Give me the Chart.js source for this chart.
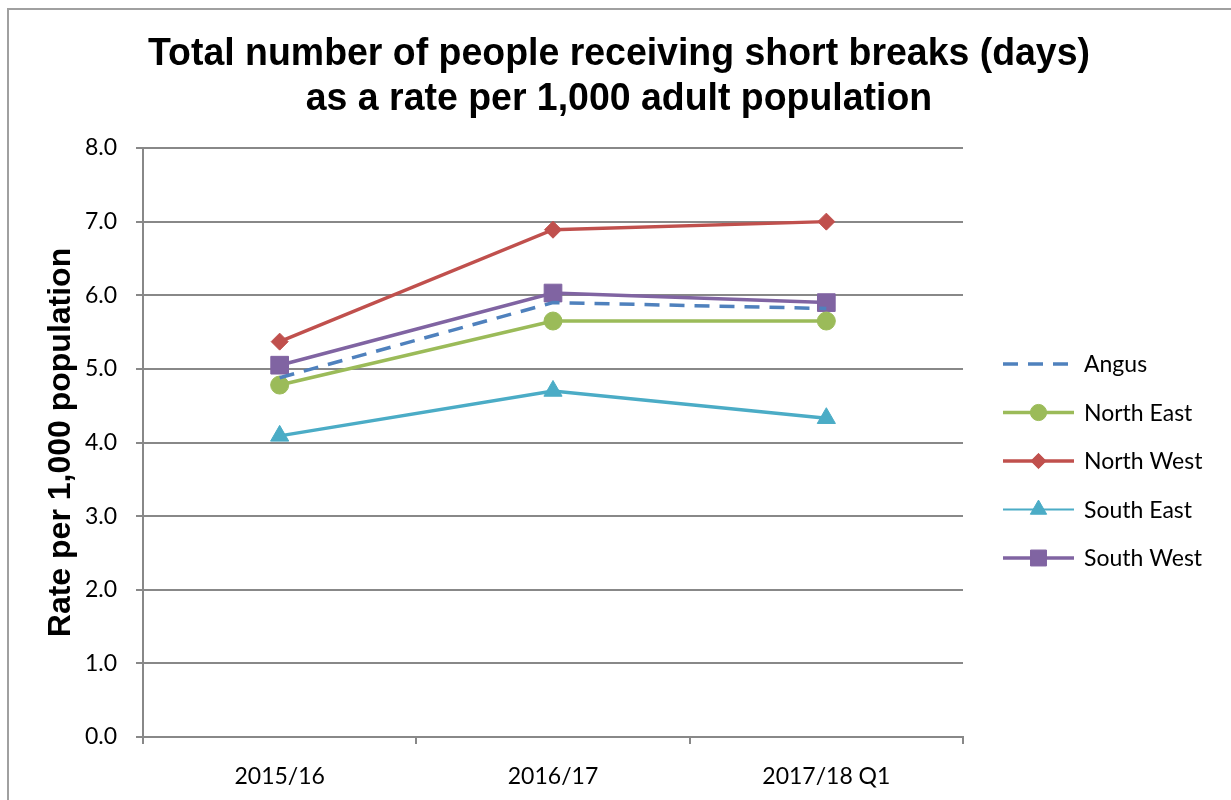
<!DOCTYPE html>
<html>
<head>
<meta charset="utf-8">
<title>Short breaks rate per 1,000 adult population</title>
<script src="https://cdn.jsdelivr.net/npm/chart.js@4"></script>
<style>
  body { margin: 0; background: #fff; }
  #wrap { position: relative; width: 1231px; height: 800px; overflow: hidden; }
  #frame { position: absolute; left: 7px; top: 8px; right: -10px; bottom: -10px;
           border-left: 2px solid #a0a0a0; border-top: 2px solid #a0a0a0; }
  #chart { position: absolute; left: 0; top: 0; }
</style>
</head>
<body>
<div id="wrap">
  <div id="frame"></div>
  <canvas id="chart" width="1231" height="800"></canvas>
</div>
<script>
const periods = ['2015/16', '2016/17', '2017/18 Q1'];

const angus     = [4.88, 5.90, 5.82];
const northEast = [4.78, 5.65, 5.65];
const northWest = [5.37, 6.89, 7.00];
const southEast = [4.09, 4.70, 4.33];
const southWest = [5.05, 6.03, 5.90];

const titleLines = ['Total number of people receiving short breaks (days)',
                    'as a rate per 1,000 adult population'];
const yTitle = 'Rate per 1,000 population';

const gridGrey = '#888888';
Chart.defaults.font.family = 'Lato, "Open Sans", sans-serif';
Chart.defaults.color = '#000';

// two-line heading, centred over the whole frame and slightly condensed
const heading = {
  id: 'heading',
  afterDraw(chart) {
    const ctx = chart.ctx;
    ctx.save();
    ctx.font = 'bold 39px "Liberation Sans", Arial, sans-serif';
    ctx.fillStyle = '#000';
    ctx.textAlign = 'center';
    ctx.textBaseline = 'alphabetic';
    const squeeze = 942 / ctx.measureText(titleLines[0]).width;
    const cx = 619;
    ctx.translate(cx, 0);
    ctx.scale(squeeze, 1);
    ctx.fillText(titleLines[0], 0, 65);
    ctx.fillText(titleLines[1], 0, 110);
    ctx.restore();
  }
};

// legend drawn at the right: line sample with marker, then the name
const sideLegend = {
  id: 'sideLegend',
  afterDraw(chart) {
    const ctx = chart.ctx;
    const x0 = 1003, x1 = 1074, textX = 1084;
    let y = 364;
    chart.data.datasets.forEach(ds => {
      ctx.save();
      ctx.strokeStyle = ds.borderColor;
      ctx.lineWidth = ds.legendLineWidth || ds.borderWidth;
      ctx.setLineDash(ds.borderDash || []);
      ctx.beginPath();
      ctx.moveTo(x0, y);
      ctx.lineTo(x1, y);
      ctx.stroke();
      ctx.setLineDash([]);
      if (ds.pointRadius > 0) {
        ctx.fillStyle = ds.pointBackgroundColor;
        ctx.strokeStyle = ds.pointBackgroundColor;
        ctx.lineWidth = 1;
        Chart.helpers.drawPoint(ctx, {
          pointStyle: ds.pointStyle,
          radius: ds.pointRadius * 0.9,
          rotation: 0,
          borderWidth: 1
        }, (x0 + x1) / 2, y);
      }
      ctx.fillStyle = '#000';
      ctx.font = '23px Lato, "Open Sans", sans-serif';
      ctx.textBaseline = 'middle';
      ctx.textAlign = 'left';
      ctx.fillText(ds.label, textX, y + 1);
      ctx.restore();
      y += 48.5;
    });
  }
};

function series(label, data, color, style, radius, extra) {
  return Object.assign({
    label: label,
    data: data,
    borderColor: color,
    backgroundColor: color,
    pointBackgroundColor: color,
    pointBorderColor: color,
    pointStyle: style,
    pointRadius: radius,
    pointHoverRadius: radius,
    pointBorderWidth: 1,
    borderWidth: 3.5,
    tension: 0,
    fill: false
  }, extra || {});
}

new Chart(document.getElementById('chart'), {
  type: 'line',
  data: {
    labels: periods,
    datasets: [
      series('Angus', angus, '#4F81BD', 'circle', 0, { borderDash: [15, 10] }),
      series('North East', northEast, '#9BBB59', 'circle', 9),
      series('North West', northWest, '#C0504D', 'rectRot', 8.5),
      series('South East', southEast, '#4BACC6', 'triangle', 10.5, { legendLineWidth: 2 }),
      series('South West', southWest, '#8064A2', 'rect', 12.5)
    ]
  },
  options: {
    responsive: false,
    animation: false,
    layout: { padding: { left: 0, right: 268, top: 148, bottom: 0 } },
    plugins: {
      legend: { display: false },
      tooltip: { enabled: false },
      title: { display: false }
    },
    scales: {
      x: {
        offset: true,
        grid: { offset: true, drawOnChartArea: false, drawTicks: true,
                tickLength: 7, color: gridGrey, lineWidth: 2 },
        border: { color: gridGrey, width: 2 },
        ticks: { font: { size: 23 }, padding: 19, color: '#000', maxRotation: 0 },
        afterFit(scale) { scale.height = 63; }
      },
      y: {
        min: 0,
        max: 8,
        ticks: {
          stepSize: 1,
          font: { size: 23 },
          padding: 19,
          color: '#000',
          callback: v => v.toFixed(1)
        },
        grid: { color: gridGrey, lineWidth: 2, tickLength: 7 },
        border: { color: gridGrey, width: 2 },
        title: {
          display: true,
          text: yTitle,
          color: '#000',
          font: { family: '"Liberation Sans", Arial, sans-serif', size: 32, weight: 'bold', lineHeight: 1.2 },
          padding: { top: 42, bottom: 0 }
        },
        afterFit(scale) { scale.width = 143; }
      }
    }
  },
  plugins: [heading, sideLegend]
});
</script>
</body>
</html>
